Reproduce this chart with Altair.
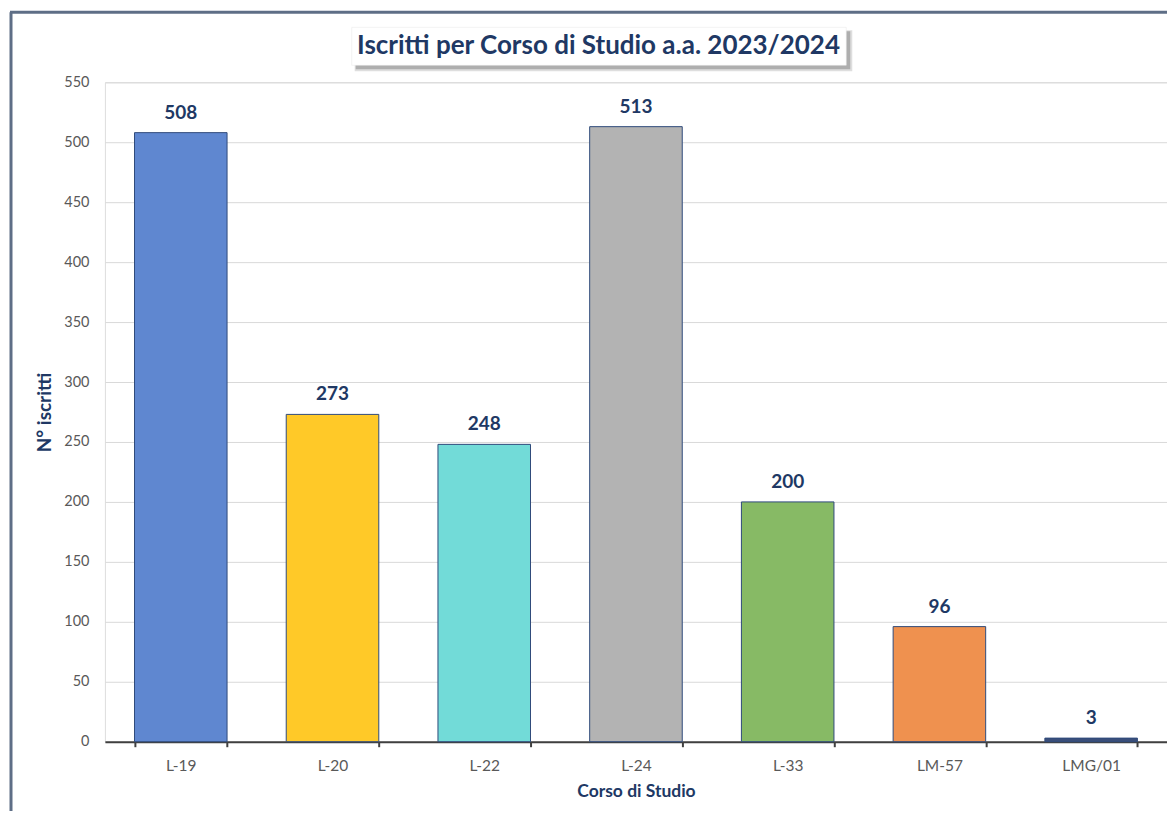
import altair as alt
import pandas as pd

corsi = ["L-19", "L-20", "L-22", "L-24", "L-33", "LM-57", "LMG/01"]
iscritti = [508, 273, 248, 513, 200, 96, 3]
colori = ["#5F87D0", "#FFC928", "#72DBD8", "#B3B3B3", "#87BA65", "#EF914F", "#3A4E7A"]
titolo = ["Iscritti per Corso di Studio a.a. 2023/2024"]

df = pd.DataFrame({"Corso": corsi, "Iscritti": iscritti, "Colore": colori})
df_t = pd.DataFrame({"Titolo": titolo})

FONT = "Lato"
NAVY = "#203864"

x_enc = alt.X(
    "Corso:N",
    sort=corsi,
    scale=alt.Scale(paddingInner=0.39, paddingOuter=0.195),
    axis=alt.Axis(
        title="Corso di Studio",
        titleFont=FONT, titleFontSize=17.5, titleFontWeight="bold", titleColor=NAVY,
        titleY=50, titleBaseline="middle",
        labelFont=FONT, labelFontSize=15.5, labelColor="#595959", labelPadding=12,
        labelAngle=0,
        domainColor="#404040", domainWidth=2,
        tickColor="#404040", tickSize=5, tickWidth=2, tickBand="extent",
        grid=False,
    ),
)
y_enc = alt.Y(
    "Iscritti:Q",
    scale=alt.Scale(domain=[0, 550]),
    axis=alt.Axis(
        title="N° iscritti",
        titleFont=FONT, titleFontSize=19, titleFontWeight="bold", titleColor=NAVY,
        titleAngle=-90, titleX=-60, titleY=330, titleBaseline="middle", titleAlign="center",
        labelFont=FONT, labelFontSize=14.5, labelColor="#595959", labelPadding=16,
        values=list(range(0, 551, 50)),
        domain=False, ticks=False,
        gridColor="#D9D9D9", gridWidth=1,
    ),
)

base = alt.Chart(df)

bars = base.mark_bar(stroke="#2F4A7A", strokeWidth=1).encode(
    x=x_enc,
    y=y_enc,
    color=alt.Color("Colore:N", scale=None),
)

labels = base.mark_text(
    font=FONT, fontSize=19, fontWeight="bold", color=NAVY, baseline="bottom", dy=-10
).encode(
    x=alt.X("Corso:N", sort=corsi),
    y="Iscritti:Q",
    text="Iscritti:Q",
)

tb = alt.Chart(df_t)
shadow2 = tb.mark_rect(color="#C8C8C8", opacity=0.6).encode(
    x=alt.value(250), x2=alt.value(748), y=alt.value(-52), y2=alt.value(-11)
)
shadow = tb.mark_rect(color="#9A9A9A", opacity=0.7).encode(
    x=alt.value(251), x2=alt.value(746), y=alt.value(-51), y2=alt.value(-13)
)
box = tb.mark_rect(color="white", stroke="#E6E6E6", strokeWidth=0.5).encode(
    x=alt.value(247), x2=alt.value(742), y=alt.value(-55), y2=alt.value(-17)
)
title_txt = tb.mark_text(
    font=FONT, fontSize=26, fontWeight="bold", color=NAVY, baseline="alphabetic", align="center"
).encode(
    x=alt.value(494), y=alt.value(-28), text="Titolo:N"
)

border_left = tb.mark_rule(color="#5E6E86", strokeWidth=3).encode(
    x=alt.value(-94), y=alt.value(-70), y2=alt.value(800)
)
border_top = tb.mark_rule(color="#5E6E86", strokeWidth=3).encode(
    x=alt.value(-95), x2=alt.value(1100), y=alt.value(-70)
)

chart = alt.layer(
    border_left, border_top, shadow2, shadow, box, title_txt, bars, labels
).properties(
    width=1063,
    height=660,
    autosize=alt.AutoSizeParams(type="none"),
    padding={"left": 97, "top": 74, "right": 0, "bottom": 69},
).configure_view(stroke=None).configure(background="white")

chart.save("out.html", embed_options={"renderer": "svg", "actions": False})
